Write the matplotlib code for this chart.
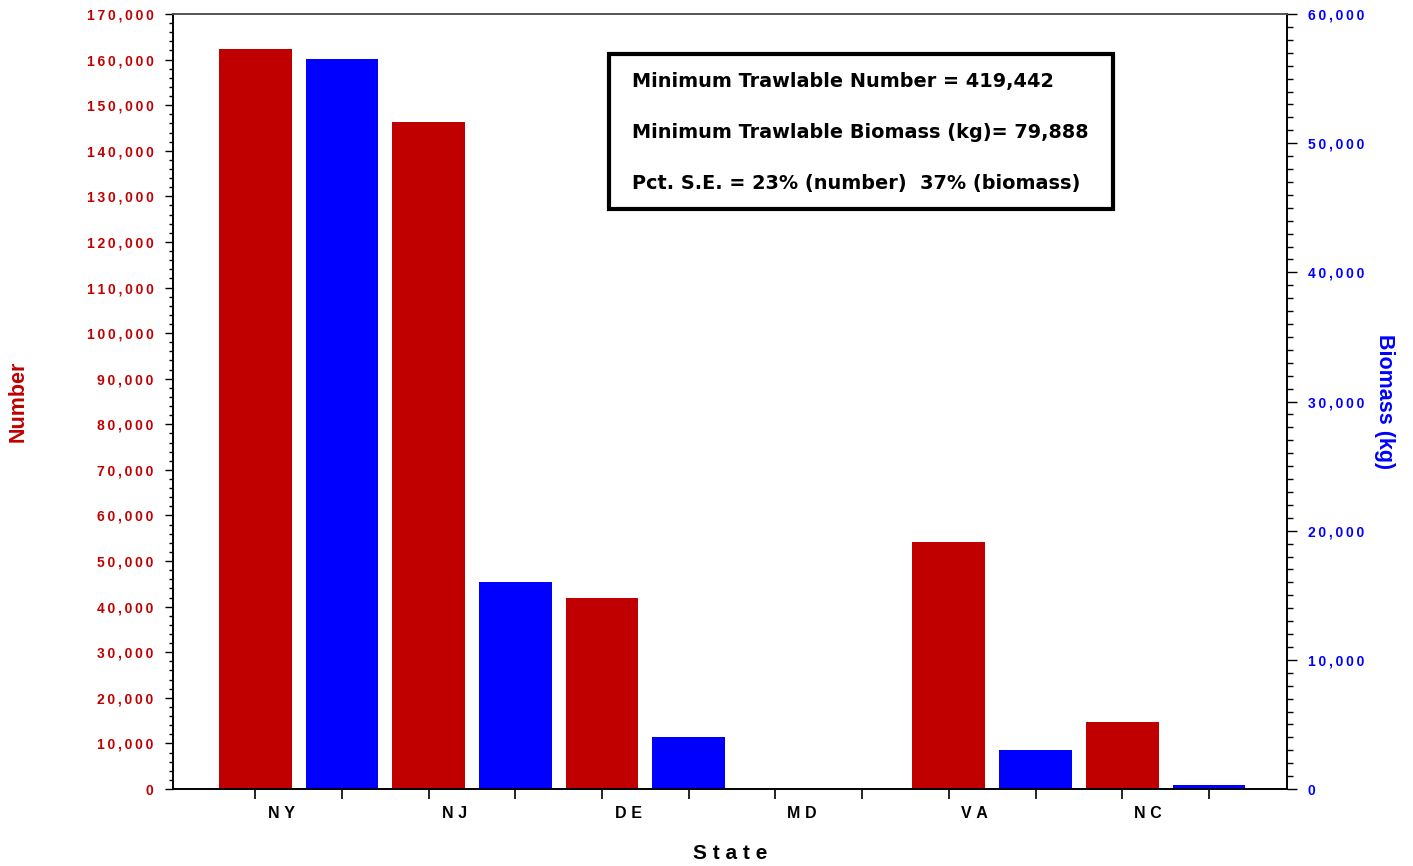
import matplotlib
matplotlib.use("Agg")
import matplotlib.pyplot as plt
from matplotlib.ticker import MultipleLocator, FuncFormatter
from matplotlib.patches import Rectangle
import numpy as np

states = ["NY", "NJ", "DE", "MD", "VA", "NC"]
number = [162300, 146400, 41900, 0, 54200, 14600]
biomass = [56500, 16000, 4050, 0, 3000, 330]

box_lines = [
    "Minimum Trawlable Number = 419,442",
    "Minimum Trawlable Biomass (kg)= 79,888",
    "Pct. S.E. = 23% (number)  37% (biomass)",
]

red = "#C00000"
blue = "#0000FF"
sans = ["Liberation Sans", "DejaVu Sans"]


def spaced(s, sep="\u2009"):
    # the original software draws tick labels with wide letter spacing
    return sep.join(s)


def fmt(v, pos):
    return spaced(f"{int(round(v)):,}")


fig = plt.figure(figsize=(14.13, 8.66), dpi=100)
ax = fig.add_axes([0.1224, 0.0889, 0.7884, 0.8949])
ax2 = ax.twinx()

idx = np.arange(len(states))
ax.bar(idx * 2, number, width=0.84, color=red, zorder=2)
ax2.bar(idx * 2 + 1, biomass, width=0.84, color=blue, zorder=2)

ax.set_xlim(-0.95, 11.9)
ax.set_ylim(0, 170000)
ax2.set_ylim(0, 60000)

# left axis
ax.yaxis.set_major_locator(MultipleLocator(10000))
ax.yaxis.set_minor_locator(MultipleLocator(2000))
ax.yaxis.set_major_formatter(FuncFormatter(fmt))
ax.tick_params(axis="y", which="major", length=6, width=1, colors="black",
               labelcolor=red, labelsize=10, pad=8)
ax.tick_params(axis="y", which="minor", length=3, width=1, colors="black")
for t in ax.get_yticklabels():
    t.set_fontweight("bold")
    t.set_family(sans)

# right axis
ax2.yaxis.set_major_locator(MultipleLocator(10000))
ax2.yaxis.set_minor_locator(MultipleLocator(1000))
ax2.yaxis.set_major_formatter(FuncFormatter(fmt))
ax2.tick_params(axis="y", which="major", length=7, width=1, colors="black",
                labelcolor=blue, labelsize=10, pad=8)
ax2.tick_params(axis="y", which="minor", length=4, width=1, colors="black")
for t in ax2.get_yticklabels():
    t.set_fontweight("bold")
    t.set_family(sans)

# x axis: tick marks at every bar, labels per state
ax.set_xticks(np.arange(12))
ax.set_xticklabels([])
ax.tick_params(axis="x", which="major", length=7, width=1.2)
ax.set_xticks(idx * 2 + 0.3, [spaced(s, "\u2009\u200a") for s in states],
              minor=True)
ax.tick_params(axis="x", which="minor", length=0, pad=12, labelsize=11.5)
for t in ax.get_xticklabels(minor=True):
    t.set_fontweight("bold")
    t.set_family(sans)

for a in (ax, ax2):
    for s in ("left", "right", "bottom"):
        a.spines[s].set_linewidth(1.2)
        a.spines[s].set_color("black")
    a.spines["top"].set_color("#555555")
    a.spines["top"].set_linewidth(1.2)

ax.set_xlabel(" ".join("State"), fontsize=15, fontweight="bold",
              family=sans, labelpad=17)
ax.set_ylabel("Number", fontsize=15.5, fontweight="bold", color=red,
              family=sans, va="center")
ax.yaxis.set_label_coords(-0.139, 0.5)
ax2.set_ylabel("Biomass (kg)", fontsize=15.5, fontweight="bold", color=blue,
               family=sans, rotation=-90, va="center")
ax2.yaxis.set_label_coords(1.088, 0.5)

# info box
ax.add_patch(Rectangle((0.3914, 0.7484), 0.4524, 0.2, transform=ax.transAxes,
                       facecolor="white", edgecolor="black", linewidth=3,
                       zorder=5, clip_on=False))
for ty, line in zip([0.9123, 0.8477, 0.7819], box_lines):
    ax.text(0.412, ty, line, transform=ax.transAxes, fontsize=13.9,
            fontweight="bold", va="center", ha="left", zorder=6)

fig.savefig("out.png", dpi=100)
